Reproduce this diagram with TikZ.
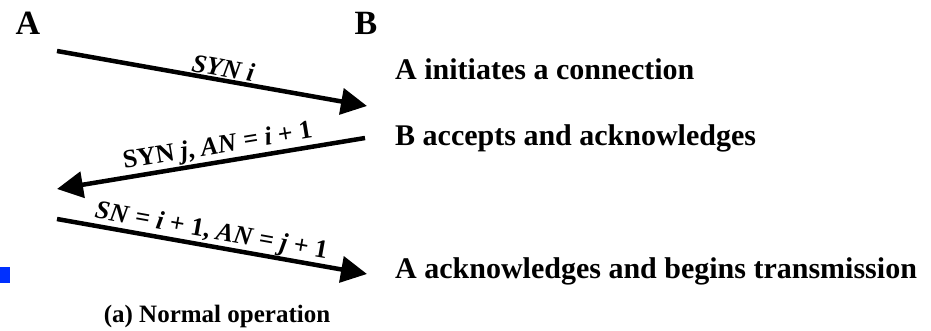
\documentclass[tikz,border=0pt]{standalone}
\usepackage{fontspec}
\setmainfont{Liberation Serif}
\usetikzlibrary{arrows.meta}

\begin{document}
\begin{tikzpicture}[x=1pt, y=-1pt,
	every node/.style={font=\bfseries},
	head/.style={anchor=base, font=\bfseries\fontsize{34}{34}\selectfont, inner sep=0pt},
	msg/.style={line width=4.5pt, -{Triangle[length=26pt, width=26pt]}},
	lbl/.style={sloped, above, inner sep=1pt, font=\bfseries\fontsize{26}{26}\selectfont},
	note/.style={anchor=base west, inner sep=0pt, font=\bfseries\fontsize{30}{30}\selectfont}]
	\useasboundingbox (0,0) rectangle (931,331);
	% end headings
	\node[head] (hA) at (28,35) {A};
	\node[head] (hB) at (366,35) {B};
	% message end points
	\coordinate (a-1) at (57,51);
	\coordinate (b-1) at (367,106);
	\coordinate (b-2) at (365,138);
	\coordinate (a-2) at (57,189);
	\coordinate (a-3) at (57,219);
	\coordinate (b-3) at (367,274);
	\path[msg]
	(a-1) edge node[lbl, pos=0.53] {\itshape SYN i} (b-1)
	(b-2) edge node[lbl, pos=0.47] {SYN \textit{j}, \textit{AN} = \textit{i} + 1} (a-2)
	(a-3) edge node[lbl, pos=0.49, inner sep=0pt] {\textit{SN} = \textit{i} + 1, \textit{AN} = \textit{j} + 1} (b-3);
	% what happens
	\node[note] (n-1) at (395,80) {A initiates a connection};
	\node[note] (n-2) at (395,146) {B accepts and acknowledges};
	\node[note] (n-3) at (395,278) {A acknowledges and begins transmission};
	\node[anchor=base, inner sep=0pt, font=\bfseries\fontsize{25}{25}\selectfont] (cap) at (217,322) {(a) Normal operation};
	\fill[fill={rgb,255:red,0;green,48;blue,255}] (0,267) rectangle (10,283);
\end{tikzpicture}
\end{document}
